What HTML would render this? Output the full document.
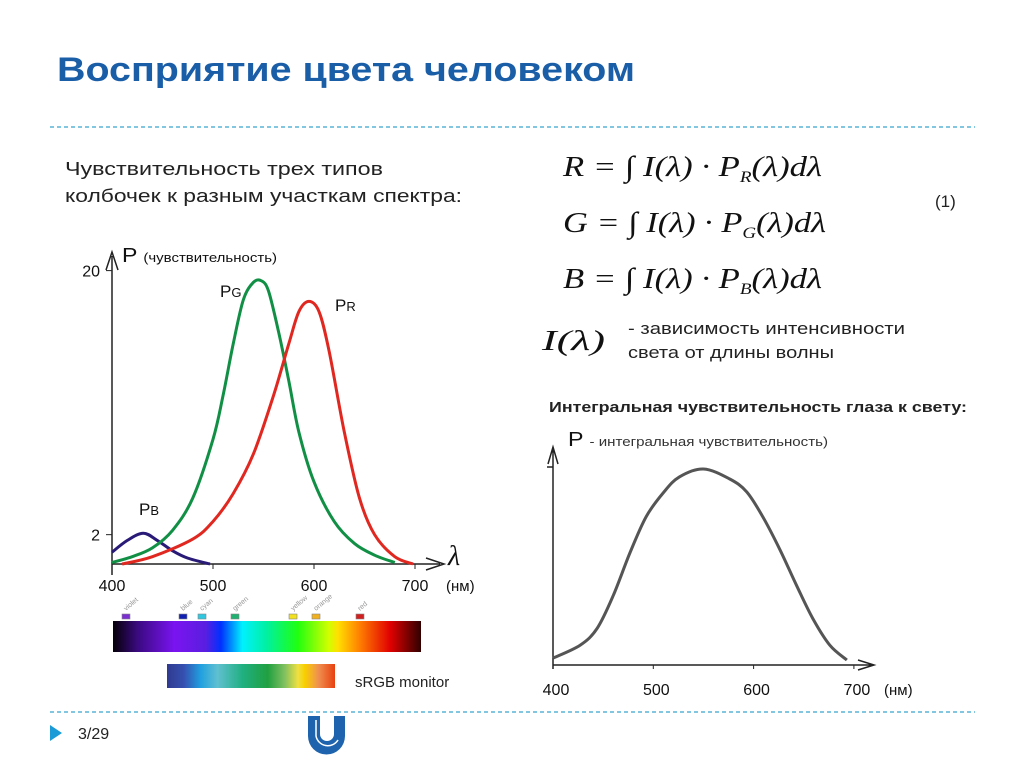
<!DOCTYPE html>
<html><head><meta charset="utf-8"><style>
body{margin:0;width:1024px;height:767px;background:#fff;overflow:hidden;font-family:"Liberation Sans","DejaVu Sans",sans-serif}
svg{position:absolute;left:0;top:0}
</style></head><body>
<svg width="1024" height="767">
<defs>
<linearGradient id="spec" x1="0" x2="1">
<stop offset="0" stop-color="#050008"/><stop offset="0.08" stop-color="#3a0a80"/><stop offset="0.2" stop-color="#7a14f0"/><stop offset="0.3" stop-color="#5a1ee0"/><stop offset="0.35" stop-color="#0030ff"/><stop offset="0.42" stop-color="#00f0ff"/><stop offset="0.5" stop-color="#00f0a0"/><stop offset="0.6" stop-color="#20ff10"/><stop offset="0.7" stop-color="#d0ff00"/><stop offset="0.73" stop-color="#ffe000"/><stop offset="0.8" stop-color="#ff8000"/><stop offset="0.9" stop-color="#e00000"/><stop offset="1" stop-color="#300000"/>
</linearGradient>
<linearGradient id="srgb" x1="0" x2="1">
<stop offset="0" stop-color="#303a90"/><stop offset="0.1" stop-color="#3550b0"/><stop offset="0.2" stop-color="#20a0e0"/><stop offset="0.3" stop-color="#60c0d0"/><stop offset="0.45" stop-color="#20b080"/><stop offset="0.6" stop-color="#20a040"/><stop offset="0.7" stop-color="#80c060"/><stop offset="0.78" stop-color="#f0e040"/><stop offset="0.82" stop-color="#f8d000"/><stop offset="0.9" stop-color="#f09050"/><stop offset="1" stop-color="#e84010"/>
</linearGradient>
</defs>
<text x="57" y="81" font-size="34" font-weight="bold" fill="#1b5ea8" textLength="578" lengthAdjust="spacingAndGlyphs">Восприятие цвета человеком</text>
<line x1="50" y1="127" x2="975" y2="127" stroke="#5ab4d6" stroke-width="1.5" stroke-dasharray="4,3"/>
<line x1="50" y1="712" x2="975" y2="712" stroke="#5ab4d6" stroke-width="1.5" stroke-dasharray="4,3"/>
<polygon points="50,725 62,733 50,741" fill="#1a9ad6"/>
<text x="78" y="739" font-size="16" fill="#222">3/29</text>
<g>
<path d="M308,716 h12 v18 a7,7 0 0 0 14,0 v-18 h11 v20 a18,18 0 0 1 -37,0z" fill="#1e63ad"/>
<path d="M316,720 v16 a12,12 0 0 0 22,4" fill="none" stroke="#fff" stroke-width="1.5"/>
</g>
<g font-size="18" fill="#222">
<text x="65" y="175" textLength="318" lengthAdjust="spacingAndGlyphs">Чувствительность трех типов</text>
<text x="65" y="202" textLength="397" lengthAdjust="spacingAndGlyphs">колбочек к разным участкам спектра:</text>
</g>
<g font-family="Liberation Serif,serif" font-style="italic" font-size="29" fill="#111">
<text x="563" y="176" textLength="259" lengthAdjust="spacingAndGlyphs">R = ∫ I(λ) · P<tspan font-size="16" dy="6">R</tspan><tspan dy="-6">(λ)dλ</tspan></text>
<text x="563" y="232" textLength="263" lengthAdjust="spacingAndGlyphs">G = ∫ I(λ) · P<tspan font-size="16" dy="6">G</tspan><tspan dy="-6">(λ)dλ</tspan></text>
<text x="563" y="288" textLength="259" lengthAdjust="spacingAndGlyphs">B = ∫ I(λ) · P<tspan font-size="16" dy="6">B</tspan><tspan dy="-6">(λ)dλ</tspan></text>
<text x="542" y="350" textLength="63" lengthAdjust="spacingAndGlyphs">I(λ)</text>
</g>
<text x="935" y="207" font-size="17" fill="#222">(1)</text>
<g font-size="17" fill="#222">
<text x="628" y="334" textLength="277" lengthAdjust="spacingAndGlyphs">-  зависимость интенсивности</text>
<text x="628" y="358" textLength="206" lengthAdjust="spacingAndGlyphs">света от длины волны</text>
</g>
<text x="549" y="412" font-size="15" font-weight="bold" fill="#222" textLength="418" lengthAdjust="spacingAndGlyphs">Интегральная чувствительность глаза к свету:</text>
<g id="left"></g>
<rect x="113" y="621" width="308" height="31" fill="url(#spec)"/>
<g id="marks"></g>
<rect x="167" y="664" width="168" height="24" fill="url(#srgb)"/>
<text x="355" y="687" font-size="15" fill="#222">sRGB monitor</text>
<g id="right"></g>
</svg>
<script>
const ns="http://www.w3.org/2000/svg";
const xTicks=[400,500,600,700];
const greenL=[400,420,440,460,480,500,510,520,530,540,548,555,565,575,585,600,620,640,660,680];
const greenP=[0.1,0.5,1.1,2.3,4.5,8.5,11.5,15,18,19.2,19.3,18.6,15.8,12.5,9,5.6,2.9,1.4,0.6,0.1];
const redL=[410,440,480,500,520,540,560,575,585,595,605,615,630,645,660,680,698];
const redP=[0,0.5,1.7,2.9,4.8,7.5,11.5,15,17.2,17.9,17.2,14.5,9,4.5,2,0.5,0];
const blueL=[400,415,431,445,460,475,497];
const blueP=[0.8,1.6,2.1,1.6,0.9,0.4,0];
const eyeL=[400,427,444,460,477,493,510,526,550,576,593,609,626,643,659,676,693];
const eyeP=[0.035,0.1,0.185,0.35,0.57,0.75,0.87,0.95,0.99,0.94,0.875,0.75,0.585,0.4,0.235,0.1,0.025];
const markNames=["violet","blue","cyan","green","yellow","orange","red"];
const markX=[126,183,202,235,293,316,360];
const markCol=["#7a30d0","#1020b0","#30c8e0","#20b070","#f0e020","#f0b020","#d02020"];
function mk(p,tag,a){const e=document.createElementNS(ns,tag);for(const k in a)e.setAttribute(k,a[k]);p.appendChild(e);return e;}
function smooth(pts){let d="M"+pts[0][0]+","+pts[0][1];for(let i=0;i<pts.length-1;i++){const p0=pts[Math.max(0,i-1)],p1=pts[i],p2=pts[i+1],p3=pts[Math.min(pts.length-1,i+2)];d+=" C"+(p1[0]+(p2[0]-p0[0])/6)+","+(p1[1]+(p2[1]-p0[1])/6)+" "+(p2[0]-(p3[0]-p1[0])/6)+","+(p2[1]-(p3[1]-p1[1])/6)+" "+p2[0]+","+p2[1];}return d;}
const M=document.getElementById('marks');
markNames.forEach((n,i)=>{
const r=mk(M,'rect',{x:markX[i]-4,y:614,width:8,height:5,fill:markCol[i],stroke:"#888","stroke-width":0.6});

const t=mk(M,'text',{x:markX[i],y:611,"font-size":7,fill:"#999",transform:"rotate(-40 "+markX[i]+" 611)"});t.textContent=n;
});
const L=document.getElementById('left');
const lx=v=>112+(v-400)*1.01, ly=v=>564-v*14.67;
let e=mk(L,'path',{d:"M112,575 V256 M106,270 L112,252 L118,270 M112,564 H440 M426,558 L444,564 L426,570",stroke:"#222","stroke-width":1.5,fill:"none"});

xTicks.forEach(t=>{const g=mk(L,'text',{x:lx(t),y:591,"font-size":16,"text-anchor":"middle",fill:"#111"});g.textContent=t;

mk(L,'line',{x1:lx(t),x2:lx(t),y1:564,y2:569,stroke:"#222"});});
[[20,"20"],[2,"2"]].forEach(a=>{const g=mk(L,'text',{x:100,y:ly(a[0])+6,"font-size":16,"text-anchor":"end",fill:"#111"});g.textContent=a[1];

mk(L,'line',{x1:106,x2:112,y1:ly(a[0]),y2:ly(a[0]),stroke:"#222"});});
e=mk(L,'text',{x:122,y:262,"font-size":20,fill:"#111",textLength:155,lengthAdjust:"spacingAndGlyphs"});e.innerHTML='P <tspan font-size="13">(чувствительность)</tspan>';

e=mk(L,'text',{x:448,y:565,"font-size":28,"font-style":"italic","font-family":"Liberation Serif,serif",fill:"#111"});e.textContent='λ';

e=mk(L,'text',{x:446,y:591,"font-size":15,fill:"#111"});e.textContent='(нм)';

[[blueL,blueP,"#2a1a78","curve-pb"],[greenL,greenP,"#119045","curve-pg"],[redL,redP,"#e02820","curve-pr"]].forEach(s=>{
const p=mk(L,'path',{d:smooth(s[0].map((l,i)=>[lx(l),ly(s[1][i])])),stroke:s[2],"stroke-width":3,fill:"none"});
});
[[220,297,"G","label-pg"],[335,311,"R","label-pr"],[139,515,"B","label-pb"]].forEach(a=>{
const t=mk(L,'text',{x:a[0],y:a[1],"font-size":17,fill:"#111"});t.innerHTML='P<tspan font-size="13">'+a[2]+'</tspan>';
});
const R=document.getElementById('right');
const rx=v=>553+(v-400)*1.003, ry=v=>665-v*198;
e=mk(R,'path',{d:"M553,669 V450 M548,464 L553,447 L558,464 M553,665 H872 M858,660 L874,665 L858,670 M547,467 H553",stroke:"#222","stroke-width":1.5,fill:"none"});

xTicks.forEach(t=>{const g=mk(R,'text',{x:rx(t)+3,y:695,"font-size":16,"text-anchor":"middle",fill:"#111"});g.textContent=t;

mk(R,'line',{x1:rx(t),x2:rx(t),y1:665,y2:669,stroke:"#222"});});
e=mk(R,'text',{x:884,y:695,"font-size":15,fill:"#111"});e.textContent='(нм)';

e=mk(R,'text',{x:568,y:446,"font-size":20,fill:"#111",textLength:260,lengthAdjust:"spacingAndGlyphs"});e.innerHTML='P <tspan font-size="13" fill="#333">- интегральная чувствительность)</tspan>';

e=mk(R,'path',{d:smooth(eyeL.map((l,i)=>[rx(l),ry(eyeP[i])])),stroke:"#555","stroke-width":3,fill:"none"});

</script>
</body></html>
